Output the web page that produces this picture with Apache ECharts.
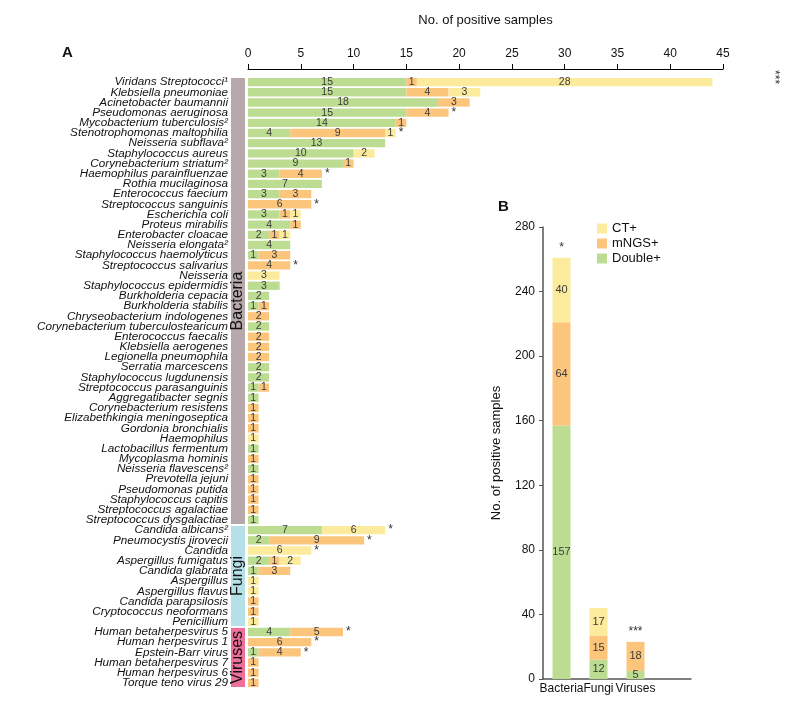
<!DOCTYPE html>
<html><head><meta charset="utf-8">
<script src="https://cdn.jsdelivr.net/npm/echarts@6/dist/echarts.min.js"></script>
<style>html,body{margin:0;padding:0;background:#fff}#c{width:786px;height:703px}</style>
</head><body><div id="c"></div>
<script>
// ---------- Panel A data ----------
const organisms = [
 'Viridans Streptococci¹','Klebsiella pneumoniae','Acinetobacter baumannii','Pseudomonas aeruginosa',
 'Mycobacterium tuberculosis²','Stenotrophomonas maltophilia','Neisseria subflava²','Staphylococcus aureus',
 'Corynebacterium striatum²','Haemophilus parainfluenzae','Rothia mucilaginosa','Enterococcus faecium',
 'Streptococcus sanguinis','Escherichia coli','Proteus mirabilis','Enterobacter cloacae','Neisseria elongata²',
 'Staphylococcus haemolyticus','Streptococcus salivarius','Neisseria','Staphylococcus epidermidis',
 'Burkholderia cepacia','Burkholderia stabilis','Chryseobacterium indologenes','Corynebacterium tuberculostearicum',
 'Enterococcus faecalis','Klebsiella aerogenes','Legionella pneumophila','Serratia marcescens',
 'Staphylococcus lugdunensis','Streptococcus parasanguinis','Aggregatibacter segnis','Corynebacterium resistens',
 'Elizabethkingia meningoseptica','Gordonia bronchialis','Haemophilus','Lactobacillus fermentum',
 'Mycoplasma hominis','Neisseria flavescens²','Prevotella jejuni','Pseudomonas putida','Staphylococcus capitis',
 'Streptococcus agalactiae','Streptococcus dysgalactiae',
 'Candida albicans²','Pneumocystis jirovecii','Candida','Aspergillus fumigatus','Candida glabrata',
 'Aspergillus','Aspergillus flavus','Candida parapsilosis','Cryptococcus neoformans','Penicillium',
 'Human betaherpesvirus 5','Human herpesvirus 1','Epstein-Barr virus','Human betaherpesvirus 7',
 'Human herpesvirus 6','Torque teno virus 29'
];
const doubleA = [15,15,18,15,14,4,13,10,9,3,7,3,0,3,4,2,4,1,0,0,3,2,1,0,2,0,0,0,2,2,1,1,0,0,0,0,1,0,1,0,0,0,0,1,
 7,2,0,2,1,0,0,0,0,0, 4,0,1,0,0,0];
const mngsA = [1,4,3,4,1,9,0,0,1,4,0,3,6,1,1,1,0,3,4,0,0,0,1,2,0,2,2,2,0,0,1,0,1,1,1,0,0,1,0,1,1,1,1,0,
 0,9,0,1,3,0,0,1,1,0, 5,6,4,1,1,1];
const ctA = [28,3,0,0,0,1,0,2,0,0,0,0,0,1,0,1,0,0,0,3,0,0,0,0,0,0,0,0,0,0,0,0,0,0,0,1,0,0,0,0,0,0,0,0,
 6,0,6,2,0,1,1,0,0,1, 0,0,0,0,0,0];
const sigA = ['***','','','*','','*','','','','*','','','*','','','','','','*','','','','','','','','','','','','','','','','','','','','','','','','','',
 '*','*','*','','','','','','','', '*','*','*','','',''];
const groupNames = ['Bacteria','Fungi','Viruses'];
const groupCounts = [44,10,6];
const xTicksA = [0,5,10,15,20,25,30,35,40,45];

// ---------- Panel B data ----------
const kingdoms = ['Bacteria','Fungi','Viruses',''];
const doubleB = [157,12,5];
const mngsB = [64,15,18];
const ctB = [40,17,0];
const sigB = ['*','','***'];
const yTicksB = [0,40,80,120,160,200,240,280];

const C_D = '#bcdd91', C_M = '#fcc57c', C_C = '#fdeb9d';
const groupColors = ['#b6a8ab','#b6e0e7','#ec6f9c'];

const chart = echarts.init(document.getElementById('c'));
const font = 'Liberation Sans';
const lbl = (arr, fs) => ({show:true, position:'inside', fontSize:fs, color:'#3a3a3a', fontFamily:font,
  formatter: p => arr[p.dataIndex] > 0 ? String(arr[p.dataIndex]) : ''});

// group ranges
let groups = [], s = 0;
groupNames.forEach((g,i)=>{ groups.push([s, s+groupCounts[i]-1, i]); s += groupCounts[i]; });

const option = {
  animation:false,
  textStyle:{fontFamily:font},
  grid:[
    {left:248, right:63, top:77, bottom:15},
    {left:543, right:95, top:227, bottom:24},
    {left:231, width:14, top:77, bottom:15}
  ],
  xAxis:[
    {gridIndex:0, type:'value', position:'top', min:0, max:45, interval:5, offset:8,
     name:'No. of positive samples', nameLocation:'middle', nameGap:42,
     nameTextStyle:{fontSize:13, color:'#111'},
     axisLine:{show:true, lineStyle:{color:'#000', width:1}},
     axisTick:{show:true, length:5, lineStyle:{color:'#000'}},
     axisLabel:{fontSize:12, color:'#111', margin:9, formatter: v => xTicksA.includes(v) ? String(v) : ''},
     splitLine:{show:false}},
    {gridIndex:1, type:'category', data:kingdoms,
     axisLine:{show:true, lineStyle:{color:'#555', width:1.5}},
     axisTick:{show:false}, axisLabel:{fontSize:12, color:'#111', margin:4, interval:0}},
    {gridIndex:2, type:'value', min:0, max:1, show:false}
  ],
  yAxis:[
    {gridIndex:0, type:'category', data:organisms, inverse:true,
     axisLine:{show:false}, axisTick:{show:false},
     axisLabel:{fontSize:11.7, fontStyle:'italic', color:'#111', margin:20, interval:0}},
    {gridIndex:1, type:'value', min:0, max:280, interval:40,
     name:'No. of positive samples', nameLocation:'middle', nameGap:40,
     nameTextStyle:{fontSize:13, color:'#111'},
     axisLine:{show:true, lineStyle:{color:'#555', width:1.5}},
     axisTick:{show:true, length:4, lineStyle:{color:'#555'}},
     axisLabel:{fontSize:12, color:'#111', margin:8, formatter: v => yTicksB.includes(v) ? String(v) : ''},
     splitLine:{show:false}},
    {gridIndex:2, type:'category', data:organisms, inverse:true, show:false}
  ],
  legend:{data:['CT+','mNGS+','Double+'], orient:'vertical', left:592, top:217, icon:'rect',
    itemWidth:10, itemHeight:10, itemGap:2, textStyle:{fontSize:13, color:'#111'}, selectedMode:false},
  graphic:[
    {type:'text', left:62, top:45, style:{text:'A', fontSize:15, fontWeight:'bold', fill:'#111', fontFamily:font}},
    {type:'text', left:498, top:199, style:{text:'B', fontSize:15, fontWeight:'bold', fill:'#111', fontFamily:font}}
  ],
  series:[
    {name:'Double+', type:'bar', xAxisIndex:0, yAxisIndex:0, stack:'a', data:doubleA, barCategoryGap:'18%',
     itemStyle:{color:C_D}, label:lbl(doubleA,10.5)},
    {name:'mNGS+', type:'bar', xAxisIndex:0, yAxisIndex:0, stack:'a', data:mngsA,
     itemStyle:{color:C_M}, label:lbl(mngsA,10.5)},
    {name:'CT+', type:'bar', xAxisIndex:0, yAxisIndex:0, stack:'a', data:ctA,
     itemStyle:{color:C_C}, label:lbl(ctA,10.5)},
    {name:'sigA', type:'bar', xAxisIndex:0, yAxisIndex:0, stack:'a', data:sigA.map((t,i)=>{
        const o = {value:0};
        if (t.length > 1) o.label = {rotate:-90, distance:58, offset:[-12,-4]};
        return o; }),
     itemStyle:{color:'transparent'}, silent:true,
     label:{show:true, position:'right', distance:3, fontSize:12, color:'#333', formatter:p=>sigA[p.dataIndex]}},
    {name:'Double+', type:'bar', xAxisIndex:1, yAxisIndex:1, stack:'b', data:doubleB, barWidth:18,
     itemStyle:{color:C_D}, label:lbl(doubleB,11)},
    {name:'mNGS+', type:'bar', xAxisIndex:1, yAxisIndex:1, stack:'b', data:mngsB,
     itemStyle:{color:C_M}, label:lbl(mngsB,11)},
    {name:'CT+', type:'bar', xAxisIndex:1, yAxisIndex:1, stack:'b', data:ctB,
     itemStyle:{color:C_C}, label:lbl(ctB,11)},
    {name:'sigB', type:'bar', xAxisIndex:1, yAxisIndex:1, stack:'b', data:sigB.map(()=>0),
     itemStyle:{color:'transparent'}, silent:true,
     label:{show:true, position:'top', distance:4, fontSize:12, color:'#333', formatter:p=>sigB[p.dataIndex]}},
    {name:'groups', type:'custom', xAxisIndex:2, yAxisIndex:2, data:groups, silent:true,
     renderItem:(params, api)=>{
       const g = groups[params.dataIndex];
       const a = api.coord([0, g[0]]), b = api.coord([1, g[1]]);
       const band = api.size([0,1])[1];
       const y0 = a[1]-band/2 + 1, y1 = b[1]+band/2 - 1;
       const x0 = a[0], w = b[0]-a[0];
       return {type:'group', children:[
         {type:'rect', shape:{x:x0, y:y0, width:w, height:y1-y0}, style:{fill:groupColors[g[2]]}},
         {type:'text', x:x0+w/2, y:(y0+y1)/2, rotation:Math.PI/2,
          style:{text:groupNames[g[2]], fontSize:16, fill:'#111', align:'center', verticalAlign:'middle', fontFamily:font}}
       ]};
     },
     encode:{x:[], y:[0,1]}}
  ]
};
chart.setOption(option);
</script></body></html>
